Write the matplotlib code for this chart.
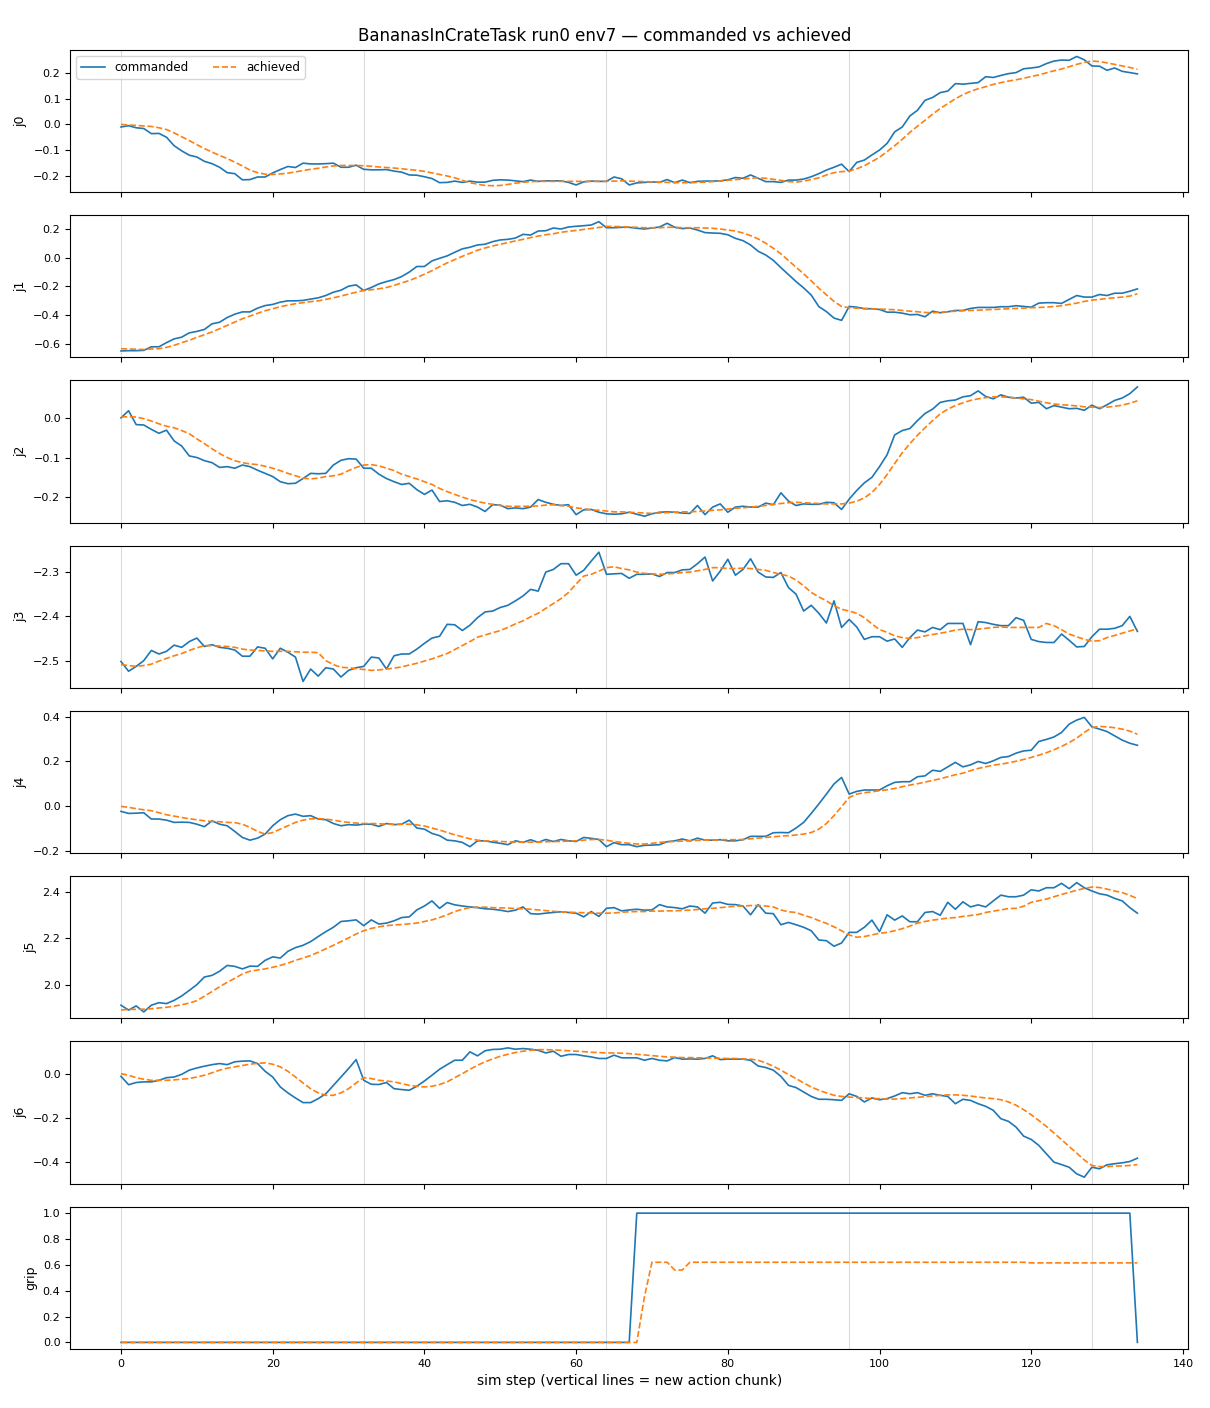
import numpy as np
import matplotlib
matplotlib.use('Agg')
import matplotlib.pyplot as plt
from matplotlib.ticker import MultipleLocator

# ---- data ----
steps = np.arange(135)
chunk_starts = [0, 32, 64, 96, 128]

j0_cmd = [-0.010, -0.005, -0.013, -0.016, -0.036, -0.035, -0.050, -0.083, -0.103, -0.120,
          -0.127, -0.144, -0.153, -0.167, -0.188, -0.192, -0.216, -0.215, -0.205, -0.205,
          -0.189, -0.176, -0.164, -0.168, -0.151, -0.154, -0.154, -0.153, -0.151, -0.167,
          -0.167, -0.159, -0.175, -0.177, -0.177, -0.176, -0.182, -0.186, -0.197, -0.198,
          -0.204, -0.211, -0.227, -0.226, -0.221, -0.226, -0.221, -0.225, -0.225, -0.218,
          -0.216, -0.217, -0.220, -0.223, -0.217, -0.222, -0.220, -0.220, -0.220, -0.226,
          -0.236, -0.224, -0.221, -0.222, -0.222, -0.205, -0.212, -0.236, -0.228, -0.226,
          -0.224, -0.226, -0.215, -0.227, -0.217, -0.227, -0.222, -0.221, -0.221, -0.220,
          -0.216, -0.207, -0.210, -0.197, -0.210, -0.223, -0.223, -0.226, -0.217, -0.217,
          -0.213, -0.204, -0.192, -0.178, -0.167, -0.155, -0.184, -0.148, -0.139, -0.119,
          -0.100, -0.074, -0.029, -0.010, 0.033, 0.055, 0.094, 0.105, 0.124, 0.130,
          0.159, 0.157, 0.160, 0.163, 0.186, 0.183, 0.191, 0.198, 0.202, 0.217,
          0.220, 0.224, 0.237, 0.247, 0.251, 0.250, 0.265, 0.252, 0.228, 0.227,
          0.211, 0.220, 0.207, 0.202, 0.197]
j0_ach = [0.000, -0.002, -0.004, -0.006, -0.008, -0.013, -0.020, -0.033, -0.048, -0.063,
          -0.079, -0.094, -0.108, -0.121, -0.133, -0.147, -0.162, -0.178, -0.188, -0.194,
          -0.195, -0.193, -0.190, -0.185, -0.180, -0.175, -0.171, -0.166, -0.162, -0.160,
          -0.160, -0.160, -0.161, -0.163, -0.166, -0.168, -0.170, -0.173, -0.176, -0.179,
          -0.183, -0.189, -0.195, -0.201, -0.208, -0.218, -0.227, -0.233, -0.238, -0.239,
          -0.238, -0.234, -0.229, -0.226, -0.223, -0.222, -0.222, -0.222, -0.222, -0.222,
          -0.222, -0.222, -0.222, -0.222, -0.222, -0.221, -0.220, -0.221, -0.222, -0.223,
          -0.224, -0.225, -0.226, -0.227, -0.227, -0.227, -0.226, -0.225, -0.223, -0.221,
          -0.218, -0.215, -0.213, -0.210, -0.208, -0.210, -0.214, -0.218, -0.223, -0.225,
          -0.221, -0.215, -0.208, -0.197, -0.188, -0.184, -0.182, -0.173, -0.161, -0.145,
          -0.128, -0.106, -0.083, -0.058, -0.031, -0.007, 0.016, 0.040, 0.062, 0.081,
          0.100, 0.116, 0.129, 0.139, 0.147, 0.156, 0.163, 0.169, 0.174, 0.180,
          0.187, 0.193, 0.201, 0.209, 0.216, 0.225, 0.234, 0.242, 0.247, 0.245,
          0.240, 0.234, 0.228, 0.222, 0.215]

j1_cmd = [-0.649, -0.647, -0.647, -0.645, -0.620, -0.620, -0.591, -0.565, -0.553, -0.523,
          -0.513, -0.499, -0.460, -0.449, -0.416, -0.393, -0.377, -0.377, -0.351, -0.333,
          -0.325, -0.309, -0.300, -0.300, -0.297, -0.288, -0.279, -0.263, -0.240, -0.226,
          -0.198, -0.189, -0.228, -0.207, -0.182, -0.166, -0.152, -0.131, -0.100, -0.061,
          -0.061, -0.022, -0.004, 0.013, 0.038, 0.062, 0.073, 0.089, 0.094, 0.112,
          0.124, 0.128, 0.137, 0.163, 0.158, 0.186, 0.188, 0.207, 0.200, 0.214,
          0.219, 0.223, 0.228, 0.251, 0.209, 0.209, 0.212, 0.212, 0.205, 0.200,
          0.207, 0.214, 0.240, 0.212, 0.203, 0.207, 0.193, 0.175, 0.172, 0.170,
          0.160, 0.135, 0.119, 0.089, 0.045, 0.019, -0.018, -0.069, -0.118, -0.166,
          -0.210, -0.260, -0.340, -0.375, -0.420, -0.436, -0.339, -0.344, -0.355, -0.355,
          -0.360, -0.379, -0.379, -0.386, -0.397, -0.395, -0.411, -0.372, -0.383, -0.376,
          -0.367, -0.367, -0.353, -0.346, -0.346, -0.346, -0.341, -0.341, -0.334, -0.339,
          -0.344, -0.316, -0.313, -0.313, -0.318, -0.290, -0.263, -0.274, -0.274, -0.256,
          -0.263, -0.247, -0.247, -0.233, -0.217]
j1_ach = [-0.633, -0.635, -0.637, -0.639, -0.635, -0.633, -0.624, -0.610, -0.591, -0.575,
          -0.554, -0.536, -0.517, -0.494, -0.471, -0.448, -0.425, -0.406, -0.387, -0.369,
          -0.355, -0.341, -0.330, -0.320, -0.313, -0.306, -0.300, -0.290, -0.279, -0.267,
          -0.253, -0.240, -0.228, -0.223, -0.216, -0.207, -0.193, -0.175, -0.159, -0.138,
          -0.115, -0.090, -0.062, -0.036, -0.013, 0.010, 0.031, 0.052, 0.068, 0.082,
          0.094, 0.105, 0.117, 0.128, 0.140, 0.151, 0.160, 0.167, 0.177, 0.184,
          0.190, 0.197, 0.204, 0.211, 0.218, 0.218, 0.216, 0.214, 0.212, 0.209,
          0.209, 0.209, 0.212, 0.212, 0.209, 0.209, 0.209, 0.207, 0.205, 0.200,
          0.193, 0.186, 0.172, 0.154, 0.131, 0.101, 0.066, 0.027, -0.020, -0.066,
          -0.112, -0.161, -0.212, -0.258, -0.304, -0.339, -0.348, -0.351, -0.353, -0.355,
          -0.357, -0.360, -0.362, -0.367, -0.372, -0.376, -0.381, -0.383, -0.379, -0.376,
          -0.372, -0.369, -0.367, -0.365, -0.362, -0.360, -0.358, -0.355, -0.353, -0.351,
          -0.348, -0.346, -0.344, -0.339, -0.334, -0.325, -0.316, -0.304, -0.295, -0.290,
          -0.283, -0.279, -0.274, -0.267, -0.251]

j2_cmd = [0.000, 0.018, -0.017, -0.018, -0.029, -0.039, -0.031, -0.058, -0.071, -0.096,
          -0.100, -0.108, -0.113, -0.125, -0.123, -0.127, -0.119, -0.123, -0.132, -0.140,
          -0.148, -0.161, -0.166, -0.165, -0.153, -0.140, -0.141, -0.140, -0.119, -0.107,
          -0.103, -0.104, -0.127, -0.127, -0.142, -0.153, -0.161, -0.168, -0.165, -0.181,
          -0.193, -0.182, -0.211, -0.209, -0.213, -0.221, -0.218, -0.225, -0.236, -0.219,
          -0.220, -0.229, -0.227, -0.229, -0.225, -0.206, -0.213, -0.218, -0.221, -0.219,
          -0.244, -0.232, -0.231, -0.238, -0.242, -0.243, -0.242, -0.238, -0.243, -0.248,
          -0.242, -0.238, -0.237, -0.238, -0.240, -0.241, -0.221, -0.244, -0.225, -0.217,
          -0.238, -0.225, -0.223, -0.225, -0.225, -0.215, -0.219, -0.189, -0.210, -0.221,
          -0.217, -0.218, -0.218, -0.213, -0.214, -0.231, -0.205, -0.183, -0.164, -0.150,
          -0.123, -0.093, -0.043, -0.032, -0.027, -0.007, 0.011, 0.022, 0.039, 0.043,
          0.045, 0.053, 0.056, 0.068, 0.054, 0.048, 0.058, 0.052, 0.050, 0.052,
          0.037, 0.039, 0.023, 0.031, 0.027, 0.023, 0.024, 0.019, 0.032, 0.023,
          0.033, 0.044, 0.050, 0.061, 0.078]
j2_ach = [0.002, 0.003, 0.002, -0.002, -0.008, -0.015, -0.021, -0.025, -0.032, -0.040,
          -0.053, -0.065, -0.078, -0.090, -0.100, -0.108, -0.113, -0.116, -0.118, -0.122,
          -0.127, -0.133, -0.140, -0.146, -0.152, -0.154, -0.152, -0.148, -0.146, -0.142,
          -0.133, -0.125, -0.119, -0.118, -0.121, -0.127, -0.133, -0.142, -0.148, -0.154,
          -0.161, -0.168, -0.178, -0.186, -0.193, -0.200, -0.206, -0.211, -0.215, -0.218,
          -0.221, -0.223, -0.223, -0.223, -0.223, -0.222, -0.220, -0.219, -0.221, -0.223,
          -0.227, -0.229, -0.232, -0.233, -0.235, -0.237, -0.237, -0.238, -0.239, -0.240,
          -0.241, -0.240, -0.239, -0.238, -0.237, -0.237, -0.236, -0.235, -0.233, -0.232,
          -0.230, -0.228, -0.227, -0.225, -0.223, -0.221, -0.218, -0.216, -0.214, -0.213,
          -0.214, -0.215, -0.216, -0.217, -0.217, -0.217, -0.215, -0.210, -0.202, -0.188,
          -0.168, -0.143, -0.115, -0.088, -0.065, -0.044, -0.025, -0.007, 0.010, 0.022,
          0.031, 0.038, 0.044, 0.048, 0.051, 0.053, 0.053, 0.052, 0.050, 0.048,
          0.046, 0.042, 0.038, 0.035, 0.033, 0.032, 0.030, 0.028, 0.027, 0.026,
          0.027, 0.029, 0.032, 0.037, 0.043]

j3_cmd = [-2.502, -2.524, -2.513, -2.500, -2.477, -2.485, -2.479, -2.465, -2.470, -2.457,
          -2.449, -2.468, -2.464, -2.470, -2.472, -2.476, -2.490, -2.490, -2.469, -2.472,
          -2.496, -2.472, -2.481, -2.492, -2.547, -2.519, -2.535, -2.516, -2.519, -2.537,
          -2.522, -2.516, -2.513, -2.492, -2.494, -2.519, -2.489, -2.485, -2.485, -2.474,
          -2.461, -2.449, -2.445, -2.418, -2.419, -2.432, -2.420, -2.403, -2.390, -2.388,
          -2.380, -2.375, -2.365, -2.354, -2.339, -2.343, -2.300, -2.294, -2.281, -2.281,
          -2.307, -2.296, -2.275, -2.255, -2.305, -2.304, -2.303, -2.314, -2.305, -2.305,
          -2.304, -2.310, -2.301, -2.301, -2.295, -2.294, -2.281, -2.266, -2.320, -2.298,
          -2.271, -2.307, -2.294, -2.270, -2.300, -2.311, -2.312, -2.301, -2.335, -2.350,
          -2.388, -2.375, -2.393, -2.415, -2.365, -2.425, -2.407, -2.424, -2.452, -2.446,
          -2.446, -2.456, -2.451, -2.470, -2.448, -2.431, -2.435, -2.425, -2.430, -2.416,
          -2.416, -2.416, -2.464, -2.412, -2.414, -2.418, -2.421, -2.421, -2.403, -2.409,
          -2.452, -2.457, -2.459, -2.459, -2.440, -2.454, -2.469, -2.468, -2.446, -2.429,
          -2.429, -2.427, -2.421, -2.400, -2.434]
j3_ach = [-2.509, -2.511, -2.513, -2.511, -2.508, -2.501, -2.495, -2.489, -2.484, -2.477,
          -2.471, -2.466, -2.466, -2.467, -2.468, -2.470, -2.474, -2.476, -2.477, -2.478,
          -2.479, -2.479, -2.479, -2.480, -2.481, -2.481, -2.482, -2.500, -2.509, -2.515,
          -2.516, -2.518, -2.520, -2.522, -2.521, -2.519, -2.517, -2.514, -2.510, -2.506,
          -2.501, -2.496, -2.490, -2.484, -2.475, -2.466, -2.457, -2.447, -2.442, -2.437,
          -2.432, -2.425, -2.417, -2.410, -2.401, -2.393, -2.382, -2.371, -2.360, -2.346,
          -2.327, -2.309, -2.305, -2.298, -2.290, -2.288, -2.292, -2.295, -2.300, -2.303,
          -2.304, -2.305, -2.304, -2.303, -2.301, -2.300, -2.297, -2.294, -2.290, -2.290,
          -2.292, -2.292, -2.291, -2.292, -2.294, -2.296, -2.301, -2.305, -2.309, -2.318,
          -2.331, -2.346, -2.356, -2.365, -2.376, -2.384, -2.388, -2.393, -2.403, -2.417,
          -2.430, -2.436, -2.444, -2.448, -2.450, -2.448, -2.444, -2.441, -2.438, -2.435,
          -2.431, -2.429, -2.430, -2.429, -2.427, -2.425, -2.424, -2.425, -2.425, -2.425,
          -2.425, -2.425, -2.416, -2.421, -2.430, -2.440, -2.446, -2.452, -2.456, -2.455,
          -2.448, -2.443, -2.438, -2.433, -2.428]

j4_cmd = [-0.022, -0.031, -0.030, -0.028, -0.056, -0.056, -0.061, -0.071, -0.070, -0.071,
          -0.079, -0.090, -0.064, -0.079, -0.086, -0.111, -0.138, -0.150, -0.141, -0.123,
          -0.086, -0.059, -0.041, -0.034, -0.044, -0.041, -0.056, -0.059, -0.076, -0.086,
          -0.081, -0.083, -0.079, -0.079, -0.089, -0.076, -0.081, -0.079, -0.061, -0.096,
          -0.101, -0.120, -0.130, -0.150, -0.153, -0.160, -0.179, -0.153, -0.153, -0.159,
          -0.164, -0.170, -0.153, -0.160, -0.148, -0.160, -0.147, -0.156, -0.147, -0.153,
          -0.156, -0.138, -0.142, -0.147, -0.179, -0.161, -0.170, -0.170, -0.179, -0.173,
          -0.172, -0.170, -0.157, -0.153, -0.145, -0.153, -0.141, -0.150, -0.150, -0.148,
          -0.153, -0.153, -0.148, -0.133, -0.133, -0.133, -0.117, -0.116, -0.117, -0.096,
          -0.071, -0.031, 0.011, 0.055, 0.100, 0.129, 0.055, 0.067, 0.073, 0.073,
          0.073, 0.092, 0.107, 0.110, 0.110, 0.132, 0.136, 0.161, 0.156, 0.176,
          0.196, 0.176, 0.185, 0.200, 0.191, 0.203, 0.218, 0.222, 0.237, 0.247,
          0.250, 0.289, 0.298, 0.309, 0.329, 0.366, 0.384, 0.396, 0.354, 0.344,
          0.333, 0.314, 0.295, 0.281, 0.272]
j4_ach = [0.000, -0.004, -0.010, -0.015, -0.019, -0.028, -0.037, -0.043, -0.049, -0.055,
          -0.059, -0.064, -0.067, -0.068, -0.071, -0.072, -0.079, -0.093, -0.111, -0.123,
          -0.116, -0.101, -0.086, -0.071, -0.061, -0.055, -0.054, -0.056, -0.061, -0.067,
          -0.071, -0.074, -0.076, -0.076, -0.077, -0.079, -0.079, -0.079, -0.079, -0.082,
          -0.087, -0.096, -0.105, -0.116, -0.126, -0.135, -0.144, -0.150, -0.153, -0.154,
          -0.156, -0.157, -0.159, -0.159, -0.159, -0.159, -0.157, -0.156, -0.156, -0.154,
          -0.153, -0.150, -0.147, -0.147, -0.150, -0.156, -0.160, -0.164, -0.167, -0.167,
          -0.164, -0.160, -0.157, -0.156, -0.154, -0.153, -0.151, -0.150, -0.150, -0.148,
          -0.148, -0.148, -0.147, -0.144, -0.141, -0.138, -0.135, -0.132, -0.130, -0.127,
          -0.123, -0.116, -0.101, -0.076, -0.041, -0.001, 0.040, 0.055, 0.061, 0.065,
          0.070, 0.074, 0.080, 0.088, 0.095, 0.101, 0.108, 0.116, 0.123, 0.132,
          0.141, 0.148, 0.159, 0.169, 0.176, 0.184, 0.188, 0.194, 0.201, 0.209,
          0.218, 0.228, 0.239, 0.252, 0.267, 0.284, 0.304, 0.329, 0.351, 0.356,
          0.354, 0.350, 0.344, 0.335, 0.321]

j5_cmd = [1.911, 1.890, 1.908, 1.882, 1.911, 1.922, 1.918, 1.932, 1.951, 1.975,
          2.000, 2.033, 2.040, 2.058, 2.083, 2.079, 2.068, 2.080, 2.079, 2.105,
          2.120, 2.115, 2.144, 2.160, 2.170, 2.186, 2.208, 2.229, 2.248, 2.273,
          2.276, 2.280, 2.255, 2.280, 2.262, 2.266, 2.276, 2.290, 2.293, 2.323,
          2.340, 2.362, 2.330, 2.355, 2.345, 2.340, 2.336, 2.333, 2.328, 2.326,
          2.322, 2.316, 2.322, 2.336, 2.307, 2.305, 2.309, 2.312, 2.315, 2.312,
          2.309, 2.293, 2.316, 2.295, 2.330, 2.333, 2.319, 2.323, 2.326, 2.322,
          2.323, 2.346, 2.336, 2.333, 2.328, 2.340, 2.336, 2.309, 2.353, 2.356,
          2.347, 2.346, 2.340, 2.302, 2.346, 2.309, 2.307, 2.259, 2.269, 2.259,
          2.248, 2.233, 2.193, 2.190, 2.166, 2.180, 2.226, 2.226, 2.248, 2.279,
          2.229, 2.302, 2.279, 2.297, 2.272, 2.272, 2.312, 2.316, 2.300, 2.356,
          2.326, 2.358, 2.336, 2.345, 2.336, 2.362, 2.387, 2.380, 2.380, 2.387,
          2.410, 2.405, 2.419, 2.419, 2.438, 2.415, 2.441, 2.419, 2.405, 2.393,
          2.387, 2.373, 2.362, 2.333, 2.309]
j5_ach = [1.890, 1.893, 1.893, 1.894, 1.896, 1.899, 1.902, 1.907, 1.913, 1.920,
          1.931, 1.950, 1.970, 1.991, 2.010, 2.027, 2.046, 2.058, 2.063, 2.068,
          2.075, 2.083, 2.093, 2.105, 2.115, 2.126, 2.140, 2.155, 2.170, 2.186,
          2.202, 2.219, 2.233, 2.243, 2.250, 2.255, 2.258, 2.260, 2.263, 2.266,
          2.273, 2.280, 2.290, 2.302, 2.316, 2.326, 2.333, 2.335, 2.335, 2.333,
          2.332, 2.331, 2.329, 2.328, 2.326, 2.323, 2.320, 2.317, 2.315, 2.313,
          2.312, 2.311, 2.310, 2.309, 2.309, 2.310, 2.313, 2.315, 2.316, 2.316,
          2.318, 2.318, 2.319, 2.319, 2.321, 2.322, 2.325, 2.328, 2.330, 2.333,
          2.336, 2.339, 2.340, 2.342, 2.342, 2.340, 2.336, 2.323, 2.315, 2.312,
          2.300, 2.290, 2.277, 2.265, 2.250, 2.233, 2.215, 2.205, 2.208, 2.215,
          2.222, 2.226, 2.233, 2.242, 2.253, 2.266, 2.273, 2.279, 2.283, 2.288,
          2.290, 2.295, 2.299, 2.303, 2.312, 2.318, 2.323, 2.329, 2.330, 2.339,
          2.356, 2.363, 2.370, 2.380, 2.390, 2.399, 2.408, 2.416, 2.422, 2.420,
          2.413, 2.405, 2.398, 2.386, 2.372]

j6_cmd = [-0.011, -0.049, -0.039, -0.036, -0.036, -0.029, -0.017, -0.014, -0.002, 0.017,
          0.027, 0.035, 0.042, 0.047, 0.042, 0.055, 0.058, 0.059, 0.047, 0.012,
          -0.014, -0.059, -0.086, -0.109, -0.130, -0.130, -0.112, -0.090, -0.052, -0.014,
          0.024, 0.065, -0.029, -0.047, -0.048, -0.039, -0.067, -0.071, -0.074, -0.056,
          -0.032, -0.006, 0.021, 0.042, 0.062, 0.062, 0.100, 0.082, 0.105, 0.111,
          0.112, 0.118, 0.112, 0.115, 0.112, 0.107, 0.095, 0.103, 0.080, 0.088,
          0.088, 0.082, 0.077, 0.070, 0.070, 0.085, 0.073, 0.073, 0.073, 0.062,
          0.070, 0.062, 0.059, 0.074, 0.067, 0.068, 0.067, 0.070, 0.082, 0.065,
          0.067, 0.067, 0.067, 0.062, 0.036, 0.029, 0.017, -0.011, -0.052, -0.062,
          -0.082, -0.102, -0.115, -0.115, -0.117, -0.120, -0.090, -0.102, -0.127, -0.109,
          -0.117, -0.112, -0.100, -0.085, -0.090, -0.085, -0.097, -0.090, -0.097, -0.102,
          -0.135, -0.115, -0.120, -0.135, -0.147, -0.165, -0.203, -0.215, -0.241, -0.282,
          -0.297, -0.324, -0.362, -0.400, -0.411, -0.423, -0.453, -0.468, -0.423, -0.430,
          -0.412, -0.407, -0.403, -0.397, -0.382]
j6_ach = [0.001, -0.006, -0.017, -0.024, -0.029, -0.029, -0.029, -0.027, -0.024, -0.021,
          -0.014, -0.006, 0.005, 0.017, 0.026, 0.032, 0.038, 0.044, 0.048, 0.050,
          0.044, 0.032, 0.012, -0.014, -0.041, -0.067, -0.086, -0.097, -0.097, -0.086,
          -0.067, -0.041, -0.017, -0.021, -0.029, -0.032, -0.036, -0.044, -0.052, -0.056,
          -0.059, -0.056, -0.048, -0.036, -0.017, 0.001, 0.021, 0.039, 0.055, 0.068,
          0.080, 0.089, 0.097, 0.103, 0.107, 0.110, 0.110, 0.109, 0.107, 0.105,
          0.103, 0.101, 0.098, 0.097, 0.095, 0.095, 0.094, 0.092, 0.089, 0.086,
          0.083, 0.080, 0.077, 0.076, 0.074, 0.074, 0.073, 0.073, 0.071, 0.071,
          0.070, 0.070, 0.068, 0.067, 0.062, 0.050, 0.035, 0.017, -0.003, -0.021,
          -0.041, -0.059, -0.074, -0.086, -0.097, -0.102, -0.105, -0.107, -0.109, -0.112,
          -0.112, -0.114, -0.114, -0.112, -0.109, -0.106, -0.103, -0.100, -0.097, -0.095,
          -0.095, -0.097, -0.100, -0.105, -0.109, -0.112, -0.117, -0.127, -0.142, -0.162,
          -0.185, -0.211, -0.238, -0.268, -0.298, -0.329, -0.359, -0.390, -0.415, -0.420,
          -0.420, -0.418, -0.417, -0.415, -0.411]

grip_cmd = [0.0] * 68 + [1.0] * 66 + [0.0]
grip_ach = ([0.0] * 69 + [0.35, 0.62, 0.62, 0.62, 0.56, 0.56]
            + [0.62] * 45 + [0.615] * 15)

joints = [
    ('j0', j0_cmd, j0_ach, 0.1),
    ('j1', j1_cmd, j1_ach, 0.2),
    ('j2', j2_cmd, j2_ach, 0.1),
    ('j3', j3_cmd, j3_ach, 0.1),
    ('j4', j4_cmd, j4_ach, 0.2),
    ('j5', j5_cmd, j5_ach, 0.2),
    ('j6', j6_cmd, j6_ach, 0.2),
    ('grip', grip_cmd, grip_ach, 0.2),
]

bad = [(n, len(c), len(a)) for n, c, a, _ in joints if len(c) != 135 or len(a) != 135]
assert not bad, bad

# ---- plot ----
fig, axes = plt.subplots(8, 1, figsize=(12.1, 14.08), dpi=100, sharex=True)
fig.subplots_adjust(left=0.058, right=0.982, top=0.9645, bottom=0.042, hspace=0.162)

for ax, (name, cmd, ach, step) in zip(axes, joints):
    for s in chunk_starts:
        ax.axvline(s, color='lightgray', lw=0.8, alpha=0.8, zorder=0)
    ax.plot(steps, cmd, color='C0', lw=1.2, label='commanded')
    ax.plot(steps, ach, color='C1', lw=1.2, ls='--', label='achieved')
    ax.set_ylabel(name, fontsize=9)
    ax.yaxis.set_major_locator(MultipleLocator(step))
    ax.tick_params(labelsize=8)

axes[0].legend(loc='upper left', ncol=2, fontsize=8.6)
axes[-1].xaxis.set_major_locator(MultipleLocator(20))
axes[-1].set_xlabel('sim step (vertical lines = new action chunk)', fontsize=10)
fig.suptitle('BananasInCrateTask run0 env7 \u2014 commanded vs achieved', fontsize=12, y=0.981)

fig.savefig('out.png', dpi=100)
